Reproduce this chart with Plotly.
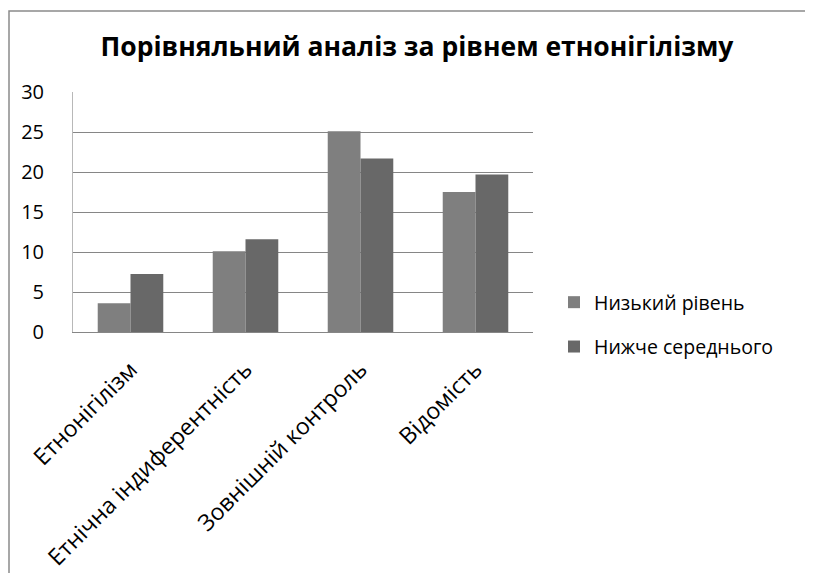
import plotly.graph_objects as go

categories = ["Етнонігілізм", "Етнічна індиферентність", "Зовнішній контроль", "Відомість"]
series_names = ["Низький рівень", "Нижче середнього"]
low_level = [3.6, 10.1, 25.1, 17.5]
below_avg = [7.25, 11.6, 21.7, 19.7]
colors = ["#7f7f7f", "#686868"]

font_family = "Open Sans, Noto Sans, sans-serif"

fig = go.Figure()
fig.add_trace(go.Bar(x=categories, y=low_level, name=series_names[0], legendgroup="a",
                     marker=dict(color=colors[0], line=dict(width=0))))
fig.add_trace(go.Bar(x=categories, y=below_avg, name=series_names[1], legendgroup="b",
                     marker=dict(color=colors[1], line=dict(width=0))))

# page body has an 8px margin; shift everything accordingly
off = 8
W, H = 805, 565
L, T = 73 - off, 92 - off
plot_right, plot_bottom = 533 - off, 332 - off
R, B = W - plot_right, H - plot_bottom
pw, ph = plot_right - L, plot_bottom - T

fig.update_layout(
    width=W, height=H,
    margin=dict(l=L, r=R, t=T, b=B, pad=0, autoexpand=False),
    paper_bgcolor="white", plot_bgcolor="white",
    barmode="group", bargap=0.43, bargroupgap=0,
    font=dict(family=font_family, color="#000000"),
    title=dict(text="<b>Порівняльний аналіз за рівнем етнонігілізму</b>",
               x=(417 - off) / W, xanchor="center", y=1 - (47 - off) / H, yanchor="middle",
               font=dict(size=26.5, family=font_family, color="#000000")),
    legend=dict(x=(554 - off - L) / pw, y=(plot_bottom - (283 - off)) / ph, xanchor="left", yanchor="top",
                font=dict(size=19.5, family=font_family), itemwidth=30,
                tracegroupgap=16, bgcolor="rgba(0,0,0,0)"),
    showlegend=True,
)
fig.update_xaxes(showline=True, linecolor="#868686", linewidth=1, tickangle=-45,
                 tickfont=dict(size=23, family=font_family), showgrid=False, ticks="",
                 ticklabelstandoff=14, automargin=False)
fig.update_yaxes(range=[0, 30], dtick=5, showgrid=True, gridcolor="#868686", gridwidth=1,
                 showline=True, linecolor="#b8b8b8", linewidth=1, zeroline=False,
                 tickfont=dict(size=20, family=font_family), ticks="", ticklabelstandoff=24,
                 automargin=False)

fig.add_shape(type="rect", xref="paper", yref="paper",
              x0=(1 - L) / pw, x1=(W + 10 - L) / pw,
              y0=(plot_bottom - (H + 10)) / ph, y1=(plot_bottom - 3) / ph,
              line=dict(color="#8a8a8a", width=1.5), fillcolor="rgba(0,0,0,0)", layer="below")

fig.write_html("out.html")
